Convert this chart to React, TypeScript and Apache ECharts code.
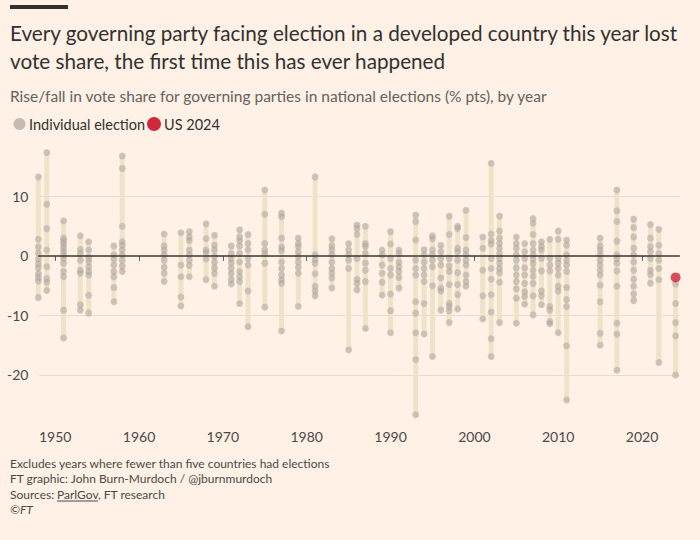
import React, { useEffect, useRef } from "react";
import * as echarts from "echarts";

const years = [1948, 1949, 1951, 1953, 1954, 1957, 1958, 1963, 1965, 1966, 1968, 1969, 1971, 1972, 1973, 1975, 1977, 1979, 1981, 1983, 1985, 1986, 1987, 1989, 1990, 1991, 1993, 1994, 1995, 1996, 1997, 1998, 1999, 2001, 2002, 2003, 2005, 2006, 2007, 2008, 2009, 2010, 2011, 2015, 2017, 2019, 2021, 2022, 2024];

const changes: number[][] = [
  [13.3, 2.8, 1.5, 0.5, -0.5, -1.3, -2, -3, -3.6, -4.2, -7], // 1948
  [17.4, 8.7, 4.6, 1, -1.8, -3.8, -4.4, -5.8], // 1949
  [5.9, 3, 2.5, 2, 1.4, 0.8, 0.2, -0.4, -1.2, -2.6, -3.5, -9.1, -13.8], // 1951
  [3.4, 1.1, 0.4, -0.7, -2.4, -2.9, -8.2, -9.1], // 1953
  [2.4, 1, -0.2, -0.9, -1.8, -2.6, -3.2, -6.6, -9.6], // 1954
  [1.7, 0.2, -0.5, -1.5, -2.6, -3.5, -5.3, -7.7], // 1957
  [16.8, 14.7, 5, 2.4, 1.8, 1, 0.2, -0.7, -1.7, -2.6], // 1958
  [3.7, 1.7, 1, 0.2, -0.7, -1.9, -2.9, -4.3], // 1963
  [3.9, -1.5, -3.5, -6.9, -8.4], // 1965
  [4.1, 3.2, 2.6, 1, 0.2, -0.7, -1.6, -3.5], // 1966
  [5.4, 2.9, 1, 0.6, -0.5, -4], // 1968
  [3.5, 1.8, 1, -0.1, -1, -2, -2.9, -5.1], // 1969
  [1.7, 0.4, -0.4, -1.2, -2.1, -3, -4, -4.7], // 1971
  [4.4, 3.2, 2.6, 1.7, 0.4, -1, -2.6, -3.5, -4.3, -8], // 1972
  [3.6, 2.1, 1, -0.4, -1.5, -5.9, -11.9], // 1973
  [11.1, 7, 2.1, 1, 0.4, -1.2, -8.6], // 1975
  [7.2, 6.6, 3, 1.5, 0.9, -1, -2.1, -3.2, -4, -4.6, -12.6], // 1977
  [3, 2.1, 1.6, 0.7, -0.1, -1, -1.9, -2.9, -8.5], // 1979
  [13.3, 0.2, -0.6, -1.2, -3, -5.1, -5.9, -6.7], // 1981
  [2.9, 1.7, 1, 0.2, -1, -2.1, -2.9, -3.7, -5.4], // 1983
  [2.1, 1, 0.2, -0.7, -2.1, -15.8], // 1985
  [5.2, 4.6, 3.6, -0.4, -3.9, -4.6, -5.7], // 1986
  [5, 2.1, 1.6, 0.4, -1.2, -2.4, -4.3, -12.2], // 1987
  [1, 0.2, -1.5, -2.9, -4.4, -6.6], // 1989
  [4.1, 2, -0.4, -2.1, -3.2, -6.4, -9.2, -12.9], // 1990
  [1, 0.4, -1, -1.8, -2.6, -3.6, -5.4], // 1991
  [6.9, 5.8, 2.7, -0.7, -2.1, -3.2, -7.7, -9.6, -12.9, -17.4, -26.7], // 1993
  [1.1, 0.2, -1, -2.1, -3.2, -4.3, -8, -13.1], // 1994
  [3.4, 2.9, 1, 0.2, -0.7, -1.8, -5, -16.9], // 1995
  [1.8, 0.7, -0.4, -1.5, -3.7, -5.4, -5.9, -9.1], // 1996
  [6.7, 3.6, -0.4, -1.7, -2.6, -4.8, -8, -8.5, -9.2, -11.2], // 1997
  [5, 4.6, 1.3, 0.7, -0.7, -2.8, -4.8, -6.5, -8.9], // 1998
  [7.7, 3.1, 1, 0.2, -0.7, -1.5, -3.2, -4.3, -5.1], // 1999
  [3.2, 1.3, -2.4, -6.7, -10.6], // 2001
  [15.6, 3.7, 2.6, 2, -0.4, -2.1, -3.9, -6.5, -9.4, -13.9, -16.9], // 2002
  [6.7, 4.2, 3, 2.1, 1.3, 0.4, -0.4, -1.2, -2.1, -2.8, -4.4, -11.2], // 2003
  [3.2, 2.1, 1.3, 0.2, -0.7, -2, -3.2, -4.3, -5.5, -7.1, -11.3], // 2005
  [2.1, 0.7, -0.4, -2, -3.2, -4.6, -6, -6.8, -8.1], // 2006
  [6.3, 5.5, 3.6, 2.1, 1, 0.2, -0.5, -1.3, -2.4, -3.4, -4.6, -6.7, -9.9], // 2007
  [2.4, 1.6, 1, -0.4, -2.5, -5.9, -6.7, -8.2], // 2008
  [2.8, -0.4, -1.5, -2.5, -8.5, -9.1, -11, -11.4], // 2009
  [4.2, 2.8, -0.4, -1.2, -2.1, -3.2, -5.1, -5.9, -12.9], // 2010
  [2.7, 1.8, 0.2, -0.7, -1.5, -2.6, -5.3, -7.3, -8.5, -15.1, -24.2], // 2011
  [3, 1.7, 1, 0.2, -0.7, -1.5, -2.4, -3.2, -4.9, -7.7, -13, -15], // 2015
  [11.1, 7.6, 5.8, 2.5, 0.2, -0.4, -1.2, -2.5, -5.1, -11.3, -13.1, -19.2], // 2017
  [6.2, 4.8, 3.2, 1.3, 0.2, -1, -2.4, -3.9, -5.1, -6.4, -7.5], // 2019
  [5.3, 3, 1.6, 0.7, -0.4, -2.4, -3.1, -4.6], // 2021
  [4.5, 1.8, 0.4, -0.7, -2.1, -4, -17.9], // 2022
  [-4.7, -8, -11.2, -13.4, -20], // 2024
];

const usYear = 2024;
const usChange = -3.6;

const yTicks = [10, 0, -10, -20];
const xTicks = [1950, 1960, 1970, 1980, 1990, 2000, 2010, 2020];

const titleLines = [
  "Every governing party facing election in a developed country this year lost",
  "vote share, the first time this has ever happened",
];
const subtitle = "Rise/fall in vote share for governing parties in national elections (% pts), by year";
const legendLabels = ["Individual election", "US 2024"];
const footLines = [
  "Excludes years where fewer than five countries had elections",
  "FT graphic: John Burn-Murdoch / @jburnmurdoch",
];

const FONT = "Lato, 'Noto Sans', sans-serif";

export default function App() {
  const ref = useRef<HTMLDivElement>(null);

  useEffect(() => {
    if (!ref.current) return;
    const chart = echarts.init(ref.current, undefined, { renderer: "svg" });

    const dots: number[][] = [];
    years.forEach((y, i) => changes[i].forEach((v) => dots.push([y, v])));

    const ranges = years.map((y, i) => {
      const vals = y === usYear ? [...changes[i], usChange] : changes[i];
      return [y, Math.min(...vals), Math.max(...vals)];
    });

    const yLabel = {
      show: true,
      position: "start",
      distance: 10,
      color: "#4d4845",
      fontSize: 14,
      fontFamily: FONT,
      formatter: (p: any) => String(p.value),
    };

    const option: any = {
      animation: false,
      backgroundColor: "#fff1e5",
      textStyle: { fontFamily: FONT },
      grid: { left: 38.4, right: 20.2, top: 148.9, bottom: 120.4 },
      xAxis: {
        type: "value",
        min: 1948,
        max: 2024.5,
        axisLine: { show: false },
        splitLine: { show: false },
        axisTick: {
          show: true,
          customValues: xTicks,
          length: 5,
          lineStyle: { color: "#66605c", width: 1 },
        },
        axisLabel: {
          customValues: xTicks,
          color: "#4d4845",
          fontSize: 14,
          fontFamily: FONT,
          margin: 10,
          formatter: (v: number) => String(v),
        },
      },
      yAxis: {
        type: "value",
        min: -27.5,
        max: 18,
        axisLine: { show: false },
        axisTick: { show: false },
        axisLabel: { show: false },
        splitLine: { show: false },
      },
      series: [
        {
          type: "scatter",
          data: [],
          z: 1,
          silent: true,
          markLine: {
            silent: true,
            symbol: ["none", "none"],
            z: 1,
            label: yLabel,
            data: yTicks
              .filter((t) => t !== 0)
              .map((t) => ({ yAxis: t, lineStyle: { color: "#e8dbce", width: 1, type: "solid" } })),
          },
        },
        {
          type: "custom",
          z: 2,
          silent: true,
          data: ranges,
          encode: { x: 0, y: [1, 2] },
          renderItem: (params: any, api: any) => {
            const x = api.value(0);
            const lo = api.value(1);
            const hi = api.value(2);
            const top = api.coord([x, hi]);
            const bot = api.coord([x, lo]);
            const w = 5;
            return {
              type: "rect",
              shape: { x: top[0] - w / 2, y: top[1] - w / 2, width: w, height: bot[1] - top[1] + w, r: w / 2 },
              style: { fill: "#eee2c9" },
            };
          },
        },
        {
          type: "scatter",
          data: [],
          z: 3,
          silent: true,
          markLine: {
            silent: true,
            symbol: ["none", "none"],
            label: yLabel,
            data: [{ yAxis: 0, lineStyle: { color: "#3a3632", width: 1.5, type: "solid" } }],
          },
        },
        {
          type: "scatter",
          z: 4,
          silent: true,
          symbolSize: 7,
          itemStyle: { color: "rgba(170,161,156,0.64)" },
          data: dots,
        },
        {
          type: "scatter",
          z: 5,
          silent: true,
          symbolSize: 10,
          itemStyle: { color: "#d0283c" },
          data: [[usYear, usChange]],
        },
      ],
      graphic: [
        { type: "rect", shape: { x: 10, y: 5, width: 58, height: 4 }, style: { fill: "#33302e" } },
        {
          type: "text",
          x: 10,
          y: 33,
          style: { text: titleLines[0], font: `20.7px ${FONT}`, fill: "#33302e", textVerticalAlign: "middle" },
        },
        {
          type: "text",
          x: 10,
          y: 61,
          style: { text: titleLines[1], font: `20.7px ${FONT}`, fill: "#33302e", textVerticalAlign: "middle" },
        },
        {
          type: "text",
          x: 10,
          y: 96,
          style: { text: subtitle, font: `15.5px ${FONT}`, fill: "#66605c", textVerticalAlign: "middle" },
        },
        { type: "circle", shape: { cx: 19.5, cy: 124, r: 6 }, style: { fill: "#c4bbb4" } },
        {
          type: "text",
          x: 29,
          y: 124,
          style: { text: legendLabels[0], font: `14.5px ${FONT}`, fill: "#33302e", textVerticalAlign: "middle" },
        },
        { type: "circle", shape: { cx: 154, cy: 124, r: 7 }, style: { fill: "#d0283c" } },
        {
          type: "text",
          x: 164,
          y: 124,
          style: { text: legendLabels[1], font: `14.5px ${FONT}`, fill: "#33302e", textVerticalAlign: "middle" },
        },
        {
          type: "text",
          x: 10,
          y: 463,
          style: { text: footLines[0], font: `12px ${FONT}`, fill: "#4d4845", textVerticalAlign: "middle" },
        },
        {
          type: "text",
          x: 10,
          y: 478,
          style: { text: footLines[1], font: `12px ${FONT}`, fill: "#4d4845", textVerticalAlign: "middle" },
        },
        {
          type: "text",
          x: 10,
          y: 494,
          style: { text: "Sources: ", font: `12px ${FONT}`, fill: "#4d4845", textVerticalAlign: "middle" },
        },
        {
          type: "text",
          x: 57,
          y: 494,
          style: { text: "ParlGov", font: `12px ${FONT}`, fill: "#4d4845", textVerticalAlign: "middle" },
        },
        { type: "line", shape: { x1: 57, y1: 501, x2: 98, y2: 501 }, style: { stroke: "#4d4845", lineWidth: 1 } },
        {
          type: "text",
          x: 98,
          y: 494,
          style: { text: ", FT research", font: `12px ${FONT}`, fill: "#4d4845", textVerticalAlign: "middle" },
        },
        {
          type: "text",
          x: 10,
          y: 509,
          style: { text: "©FT", font: `italic 12px ${FONT}`, fill: "#4d4845", textVerticalAlign: "middle" },
        },
      ],
    };

    chart.setOption(option);
    return () => chart.dispose();
  }, []);

  return (
    <div
      ref={ref}
      style={{ position: "fixed", left: 0, top: 0, width: 700, height: 540, background: "#fff1e5" }}
    />
  );
}
